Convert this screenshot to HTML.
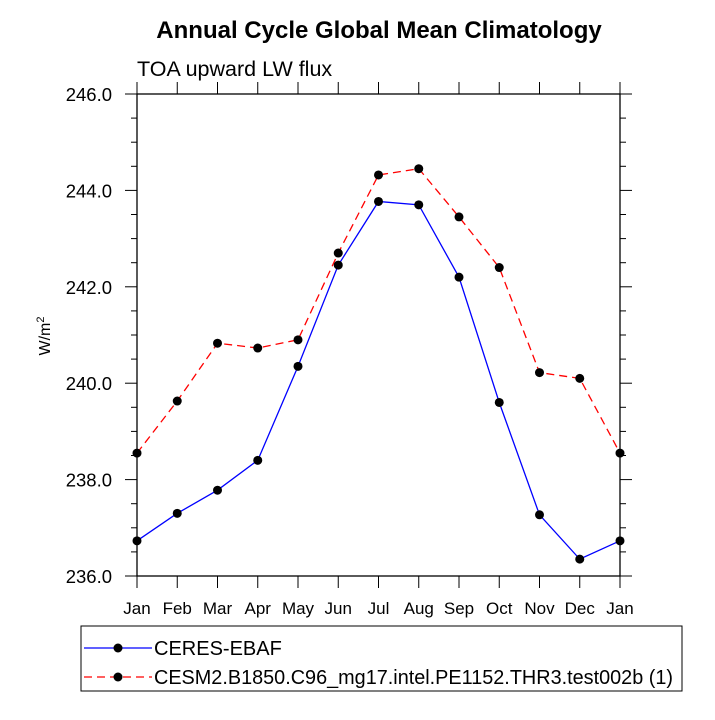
<!DOCTYPE html>
<html><head><meta charset="utf-8"><style>
body{margin:0;background:#fff;}
svg text{font-family:"Liberation Sans",Arial,sans-serif;}
</style></head><body>
<svg id="chart" width="715" height="715" viewBox="0 0 715 715" xmlns="http://www.w3.org/2000/svg">
<text x="379" y="38" text-anchor="middle" font-size="24" font-weight="bold">Annual Cycle Global Mean Climatology</text>
<text x="137" y="76" font-size="21.5">TOA upward LW flux</text>
<text transform="translate(50,336) rotate(-90)" text-anchor="middle" font-size="16">W/m<tspan dy="-6" font-size="11">2</tspan></text>
<g id="axes"></g>
<g id="series"></g>
<g>
<rect x="81" y="626" width="601" height="65" fill="none" stroke="#000" stroke-width="1"/>
<g>
<line x1="84" y1="648" x2="152" y2="648" stroke="#0000ff" stroke-width="1.3"/>
<circle cx="118" cy="648" r="4.5" fill="#000"/>
<text x="154" y="655" font-size="20">CERES-EBAF</text></g>
<g>
<line x1="84" y1="677" x2="152" y2="677" stroke="#ff0000" stroke-width="1.3" stroke-dasharray="8,5"/>
<circle cx="118" cy="677" r="4.5" fill="#000"/>
<text x="154" y="684" font-size="20" textLength="519" lengthAdjust="spacingAndGlyphs">CESM2.B1850.C96_mg17.intel.PE1152.THR3.test002b (1)</text></g>
</g>
</svg>
<script>
const months = ["Jan","Feb","Mar","Apr","May","Jun","Jul","Aug","Sep","Oct","Nov","Dec","Jan"];
const ceresValues = [236.73,237.30,237.78,238.40,240.35,242.45,243.77,243.70,242.20,239.60,237.27,236.35,236.73];
const cesmValues = [238.55,239.63,240.83,240.73,240.90,242.70,244.32,244.45,243.45,242.40,240.22,240.10,238.55];
const yTicks = [236,238,240,242,244,246];
const yTickLabels = ["236.0","238.0","240.0","242.0","244.0","246.0"];

const NS="http://www.w3.org/2000/svg";
const L=137,R=620,T=94,B=576,YMIN=236,YMAX=246;
const xs=i=>L+(R-L)*i/(months.length-1);
const ys=v=>B-(v-YMIN)/(YMAX-YMIN)*(B-T);
function mk(tag,attrs,parent){const e=document.createElementNS(NS,tag);for(const k in attrs)e.setAttribute(k,attrs[k]);parent.appendChild(e);return e;}
const axes=document.getElementById('axes');
const frame=mk('rect',{x:L,y:T,width:R-L,height:B-T,fill:'none',stroke:'#000','stroke-width':1.3},axes);


months.forEach((m,i)=>{
  const x=xs(i);
  const t1=mk('line',{x1:x,y1:B,x2:x,y2:B+12,stroke:'#000','stroke-width':1},axes);
  
  
  const t2=mk('line',{x1:x,y1:T,x2:x,y2:T-12,stroke:'#000','stroke-width':1},axes);
  
  
  const tx=mk('text',{x:x,y:B+38,'text-anchor':'middle','font-size':17},axes);
  tx.textContent=m;
  
  
});
for(let v=YMIN;v<=YMAX+1e-9;v+=0.5){
  const y=ys(v);const major=Math.abs(v-Math.round(v/2)*2)<1e-9;const len=major?12:6;
  const a=mk('line',{x1:L,y1:y,x2:L-len,y2:y,stroke:'#000','stroke-width':1},axes);
  
  
  const b=mk('line',{x1:R,y1:y,x2:R+len,y2:y,stroke:'#000','stroke-width':1},axes);
  
  
}
yTicks.forEach((v,i)=>{
  const t=mk('text',{x:L-25,y:ys(v)+7,'text-anchor':'end','font-size':18.5},axes);
  t.textContent=yTickLabels[i];
  
  
});
const series=document.getElementById('series');
function draw(vals,color,dash,name){
  const pts=vals.map((v,i)=>xs(i)+','+ys(v)).join(' ');
  const pl=mk('polyline',{points:pts,fill:'none',stroke:color,'stroke-width':1.3},series);
  if(dash)pl.setAttribute('stroke-dasharray',dash);
  
  
  vals.forEach((v,i)=>{
    const c=mk('circle',{cx:xs(i),cy:ys(v),r:4.5,fill:'#000'},series);
    
    
  });
}
draw(cesmValues,'#ff0000','8,5','cesm2');
draw(ceresValues,'#0000ff',null,'ceres');
</script>
</body></html>
